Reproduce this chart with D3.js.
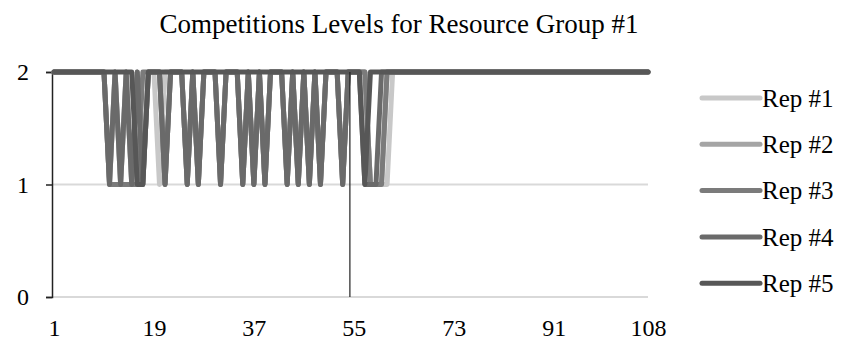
<!DOCTYPE html>
<html>
<head>
<meta charset="utf-8">
<script src="https://cdn.jsdelivr.net/npm/d3@7"></script>
<style>
  html, body { margin: 0; padding: 0; background: #fff; }
  svg { display: block; }
  text { font-family: "Liberation Serif", "Times New Roman", serif; fill: #000; }
</style>
</head>
<body>
<svg id="chart" width="844" height="347"></svg>
<script>
// Competition level per time step (1..108) for each replication
const steps = d3.range(1, 109);
const seriesNames = ["Rep #1", "Rep #2", "Rep #3", "Rep #4", "Rep #5"];
const rep1 = [2,2,2,2,2,2,2,2,2,2, 1,2,1,2,1,2,1,2,2,1, 2,2,2,2,1,2,1,2,2,2, 1,2,2,2,1,2,1,2,1,2, 2,2,1,2,1,2,1,2,1,2, 2,2,1,2,2,2,2,1,1,1, 1,2,2,2,2,2,2,2,2,2, 2,2,2,2,2,2,2,2,2,2, 2,2,2,2,2,2,2,2,2,2, 2,2,2,2,2,2,2,2,2,2, 2,2,2,2,2,2,2,2];
const rep2 = [2,2,2,2,2,2,2,2,2,2, 1,2,1,2,1,2,1,2,2,2, 1,2,2,2,1,2,1,2,2,2, 1,2,2,2,1,2,1,2,1,2, 2,2,1,2,1,2,1,2,1,2, 2,2,1,2,2,2,2,1,1,1, 2,2,2,2,2,2,2,2,2,2, 2,2,2,2,2,2,2,2,2,2, 2,2,2,2,2,2,2,2,2,2, 2,2,2,2,2,2,2,2,2,2, 2,2,2,2,2,2,2,2];
const rep3 = [2,2,2,2,2,2,2,2,2,2, 1,1,1,1,1,1,2,2,2,2, 1,2,2,2,1,2,1,2,2,2, 1,2,2,2,1,2,1,2,1,2, 2,2,1,2,1,2,1,2,1,2, 2,2,1,2,2,2,2,1,1,1, 2,2,2,2,2,2,2,2,2,2, 2,2,2,2,2,2,2,2,2,2, 2,2,2,2,2,2,2,2,2,2, 2,2,2,2,2,2,2,2,2,2, 2,2,2,2,2,2,2,2];
const rep4 = [2,2,2,2,2,2,2,2,2,2, 1,2,1,2,1,2,1,2,2,2, 1,2,2,2,1,2,1,2,2,2, 1,2,2,2,1,2,1,2,1,2, 2,2,1,2,1,2,1,2,1,2, 2,2,1,2,2,2,1,1,1,2, 2,2,2,2,2,2,2,2,2,2, 2,2,2,2,2,2,2,2,2,2, 2,2,2,2,2,2,2,2,2,2, 2,2,2,2,2,2,2,2,2,2, 2,2,2,2,2,2,2,2];
const rep5 = [2,2,2,2,2,2,2,2,2,2, 2,2,2,2,2,1,1,2,2,2, 2,2,2,2,2,2,2,2,2,2, 2,2,2,2,2,2,2,2,2,2, 2,2,2,2,2,2,2,2,2,2, 2,2,2,2,2,2,1,2,2,2, 2,2,2,2,2,2,2,2,2,2, 2,2,2,2,2,2,2,2,2,2, 2,2,2,2,2,2,2,2,2,2, 2,2,2,2,2,2,2,2,2,2, 2,2,2,2,2,2,2,2];
const seriesValues = [rep1, rep2, rep3, rep4, rep5];
const xTickLabels = [1, 19, 37, 55, 73, 91, 108];
const yTickLabels = [0, 1, 2];
const markerStep = [54.3];
const title = "Competitions Levels for Resource Group #1";

const colors = ["#c8c8c8", "#a5a5a5", "#7b7b7b", "#6a6a6a", "#575757"];

const svg = d3.select("#chart");
const x = d3.scaleLinear().domain([1, 108]).range([54, 648]);
const y = d3.scaleLinear().domain([0, 2]).range([297, 72]);

// title
svg.append("text")
  .attr("x", 399).attr("y", 33)
  .attr("text-anchor", "middle")
  .style("font-size", "27px")
  .text(title);

// horizontal gridlines
svg.append("g").selectAll("line")
  .data(yTickLabels.filter(d => d < 2))
  .join("line")
  .attr("x1", 52).attr("x2", 648)
  .attr("y1", d => y(d)).attr("y2", d => y(d))
  .attr("stroke", "#d9d9d9").attr("stroke-width", 2);

// y axis
const yAxis = svg.append("g")
  .attr("transform", "translate(52,0)")
  .call(d3.axisLeft(y).tickValues(yTickLabels).tickFormat(d3.format("d")).tickSize(6).tickPadding(17));
yAxis.select(".domain").attr("stroke", "#222").attr("stroke-width", 1.5);
yAxis.selectAll(".tick line").attr("stroke", "#222").attr("stroke-width", 1.5);
yAxis.selectAll("text").style("font-size", "24px").style("font-family", "Liberation Serif, serif");

// x labels
const xAxis = svg.append("g")
  .attr("transform", "translate(0,297)")
  .call(d3.axisBottom(x).tickValues(xTickLabels).tickFormat(d3.format("d")).tickSize(0).tickPadding(22));
xAxis.select(".domain").remove();
xAxis.selectAll("text").style("font-size", "24px").style("font-family", "Liberation Serif, serif");

// series lines
const line = d3.line().x((d, i) => x(steps[i])).y(d => y(d));
svg.append("g").selectAll("path")
  .data(seriesValues)
  .join("path")
  .attr("d", d => line(d))
  .attr("fill", "none")
  .attr("stroke", (d, i) => colors[i])
  .attr("stroke-width", 5)
  .attr("stroke-linejoin", "round")
  .attr("stroke-linecap", "round");

// marker line
svg.append("g").selectAll("line")
  .data(markerStep)
  .join("line")
  .attr("x1", d => x(d)).attr("x2", d => x(d))
  .attr("y1", y(2)).attr("y2", y(0))
  .attr("stroke", "#222").attr("stroke-width", 1.2);

// legend
const legend = svg.append("g").selectAll("g")
  .data(seriesNames)
  .join("g")
  .attr("transform", (d, i) => `translate(702,${98 + i * 46.3})`);
legend.append("line")
  .attr("x1", 0).attr("x2", 58)
  .attr("stroke", (d, i) => colors[i])
  .attr("stroke-width", 5)
  .attr("stroke-linecap", "round");
legend.append("text")
  .attr("x", 60).attr("dy", "0.35em")
  .style("font-size", "25px")
  .text(d => d);
</script>
</body>
</html>
